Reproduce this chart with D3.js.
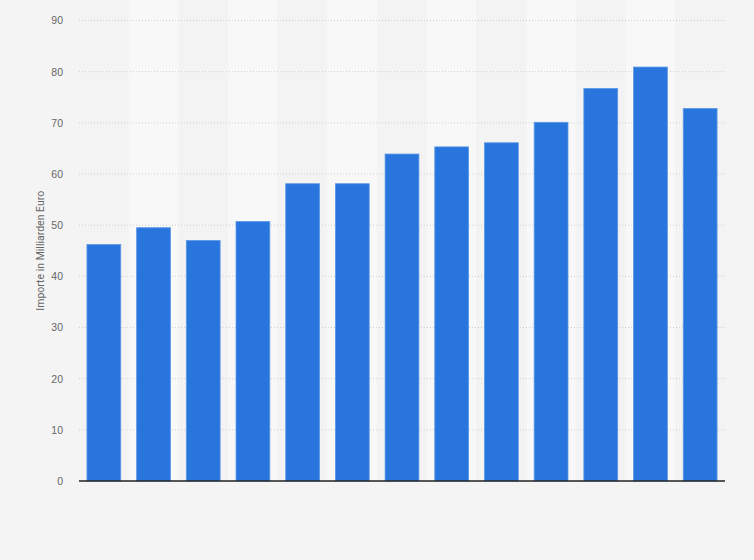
<!DOCTYPE html>
<html>
<head>
<meta charset="utf-8">
<script src="https://cdn.jsdelivr.net/npm/d3@7"></script>
<style>
  html, body { margin: 0; padding: 0; background: #f4f4f4; }
  svg { display: block; font-family: Roboto, "Open Sans", sans-serif; }
</style>
</head>
<body>
<svg id="chart" width="754" height="560"></svg>
<script>
// categories (no labels are shown in the reference)
var categories = ["2008", "2009", "2010", "2011", "2012", "2013", "2014",
                  "2015", "2016", "2017", "2018", "2019", "2020"];
// imports in billion euro
var values = [46.2, 49.5, 47.0, 50.7, 58.1, 58.1, 63.9, 65.3, 66.1, 70.1, 76.7, 80.9, 72.8];
var yTicks = [0, 10, 20, 30, 40, 50, 60, 70, 80, 90];
var yLabel = "Importe in Milliarden Euro";

var W = 754, H = 560;
var margin = {top: 20.5, right: 29, bottom: 79, left: 79};
var innerW = W - margin.left - margin.right;
var innerH = H - margin.top - margin.bottom;

var svg = d3.select("#chart");
svg.append("rect").attr("width", W).attr("height", H).attr("fill", "#f4f4f4");

var g = svg.append("g").attr("transform", "translate(" + margin.left + "," + margin.top + ")");

var x = d3.scaleBand().domain(categories).range([0, innerW])
	.paddingInner(0.32).paddingOuter(0.16);
var xBg = d3.scaleBand().domain(categories).range([0, innerW]).padding(0);
var y = d3.scaleLinear().domain([0, 90]).range([innerH, 0]);

// alternating column bands
g.selectAll("rect.band")
	.data(categories)
	.enter().append("rect")
	.attr("class", "band")
	.attr("x", function (d) { return xBg(d); })
	.attr("y", -margin.top)
	.attr("width", xBg.bandwidth())
	.attr("height", innerH + margin.top)
	.attr("fill", function (d, i) { return i % 2 ? "#f8f8f8" : "#f3f3f3"; });

// gridlines
g.selectAll("line.grid")
	.data(yTicks.filter(function (t) { return t > 0; }))
	.enter().append("line")
	.attr("class", "grid")
	.attr("x1", 0).attr("x2", innerW)
	.attr("y1", function (d) { return y(d); })
	.attr("y2", function (d) { return y(d); })
	.attr("stroke", "#cfcfcf")
	.attr("stroke-width", 1)
	.attr("stroke-dasharray", "1,2");

// y axis
var yAxis = d3.axisLeft(y).tickValues(yTicks).tickSize(0).tickPadding(16);
var ya = g.append("g").call(yAxis);
ya.select(".domain").remove();
ya.selectAll("text").attr("fill", "#666").style("font-size", "10.5px");

// bars
g.selectAll("rect.bar")
	.data(values)
	.enter().append("rect")
	.attr("class", "bar")
	.attr("x", function (d, i) { return x(categories[i]); })
	.attr("y", function (d) { return y(d); })
	.attr("width", x.bandwidth())
	.attr("height", function (d) { return innerH - y(d); })
	.attr("fill", "#2876dd")
	.attr("stroke", "#5a96e6")
	.attr("stroke-width", 0.8);

// baseline
g.append("line")
	.attr("x1", 0).attr("x2", innerW)
	.attr("y1", innerH).attr("y2", innerH)
	.attr("stroke", "#222")
	.attr("stroke-width", 1.5);

// y label
svg.append("text")
	.attr("transform", "translate(44," + (margin.top + innerH / 2) + ") rotate(-90)")
	.attr("text-anchor", "middle")
	.attr("fill", "#666")
	.style("font-size", "10.5px")
	.text(yLabel);
</script>
</body>
</html>
